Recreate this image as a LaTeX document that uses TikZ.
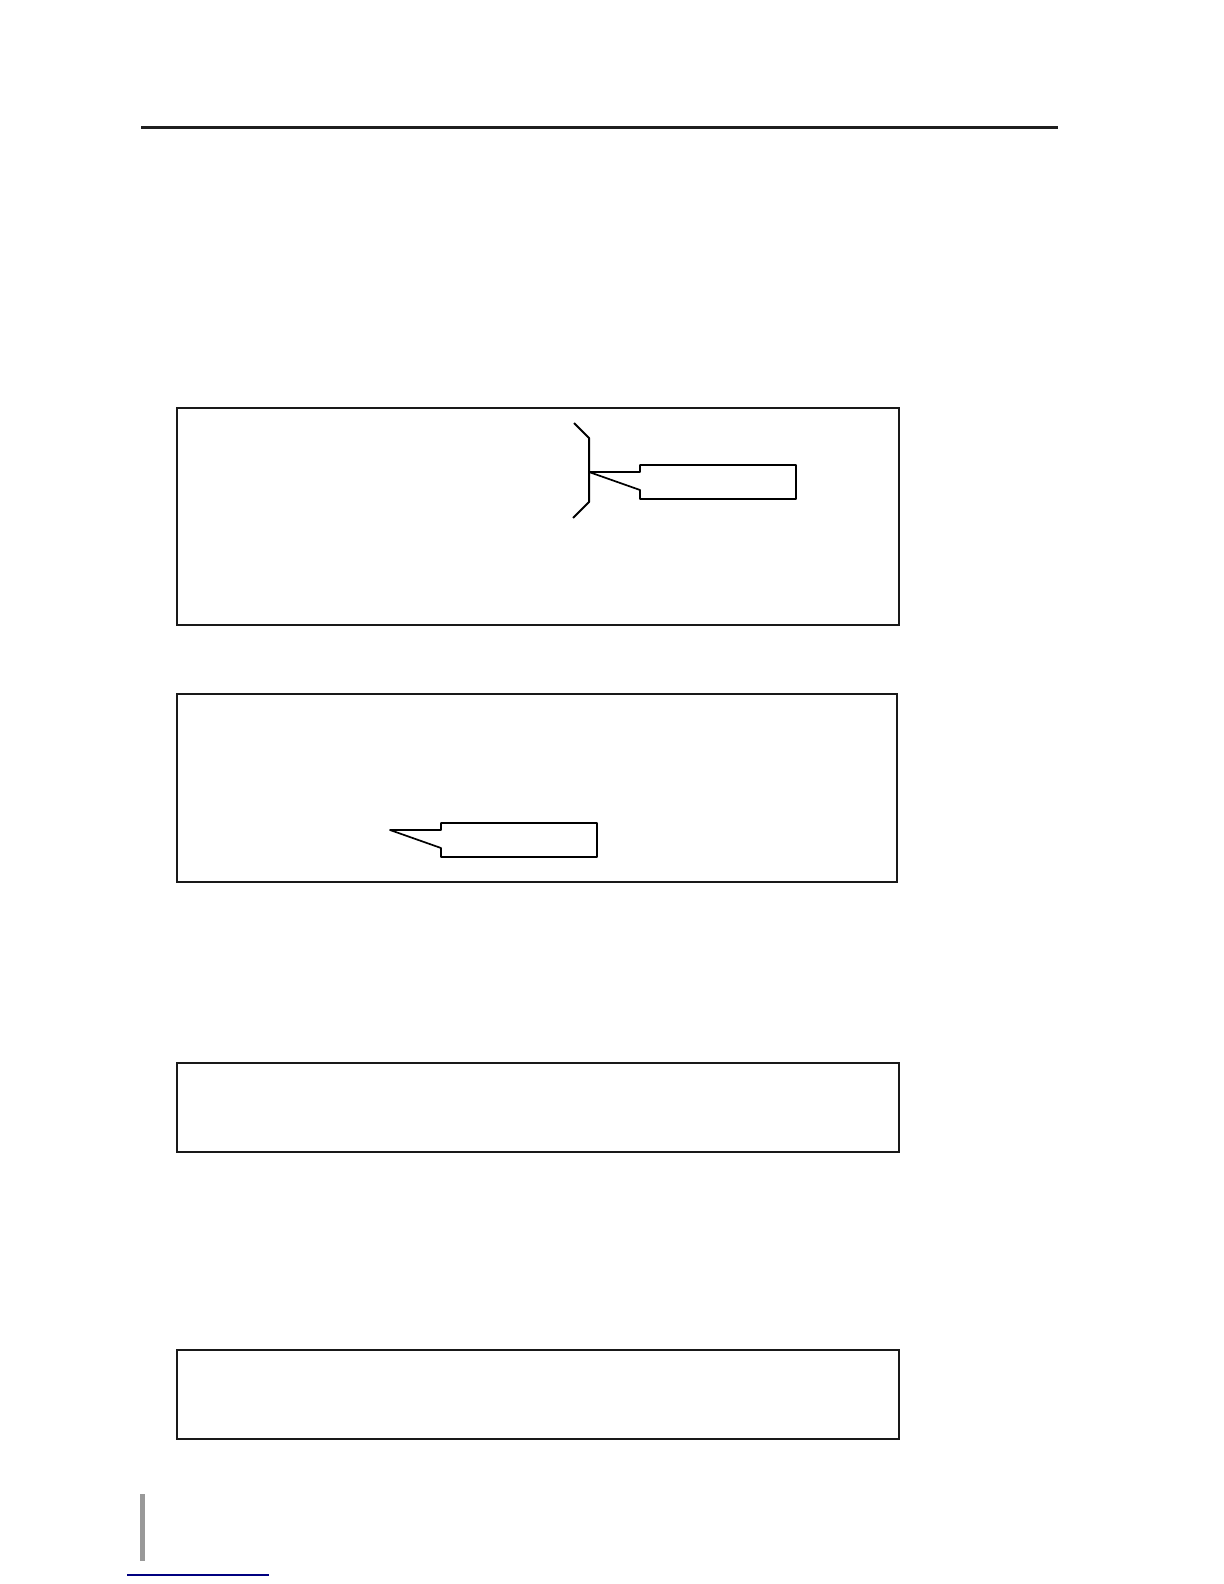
\documentclass[tikz,border=0pt]{standalone}
\usepackage{tikz,pgf}

\begin{document}
\begin{tikzpicture}[
  x=0.5pt, y=-0.5pt,
  every node/.style={inner sep=0pt, outer sep=0pt}
]
\tikzstyle{panel}=[rectangle, draw=black!90, line width=0.7pt, minimum width=361pt]
\tikzstyle{tag}=[draw=black, line width=0.85pt, line join=round]
\tikzstyle{rule}=[draw=black!88, line width=1.5pt]

\useasboundingbox (0,0) rectangle (1224,1584);

% header rule
\draw[rule] (141,128) -- (1058,128);

% panels
\node[panel, minimum height=108.5pt] (panelA) at (538,516.5) {};
\node[panel, minimum width=360pt, minimum height=94pt] (panelB) at (537,788) {};
\node[panel, minimum height=44.5pt] (panelC) at (538,1107.5) {};
\node[panel, minimum height=44.5pt] (panelD) at (538,1394.5) {};

% bracket with callout
\coordinate (tipA) at (589,472);
\draw[tag, line width=1pt] (574,423) -- (589,438) -- (589,502) -- (573,518);
\draw[tag] (tipA) -- (640,472) -- (640,465) -- (796,465) -- (796,499)
  -- (640,499) -- (640,490) -- cycle;

% lower callout
\coordinate (tipB) at (390,830);
\draw[tag] (tipB) -- (441,830) -- (441,823) -- (597,823) -- (597,857)
  -- (441,857) -- (441,848) -- cycle;

% footer marks
\fill[black!40] (140,1494) rectangle (145,1561);
\draw[blue!50!black, line width=0.6pt] (127,1575) -- (269,1575);
\end{tikzpicture}
\end{document}
